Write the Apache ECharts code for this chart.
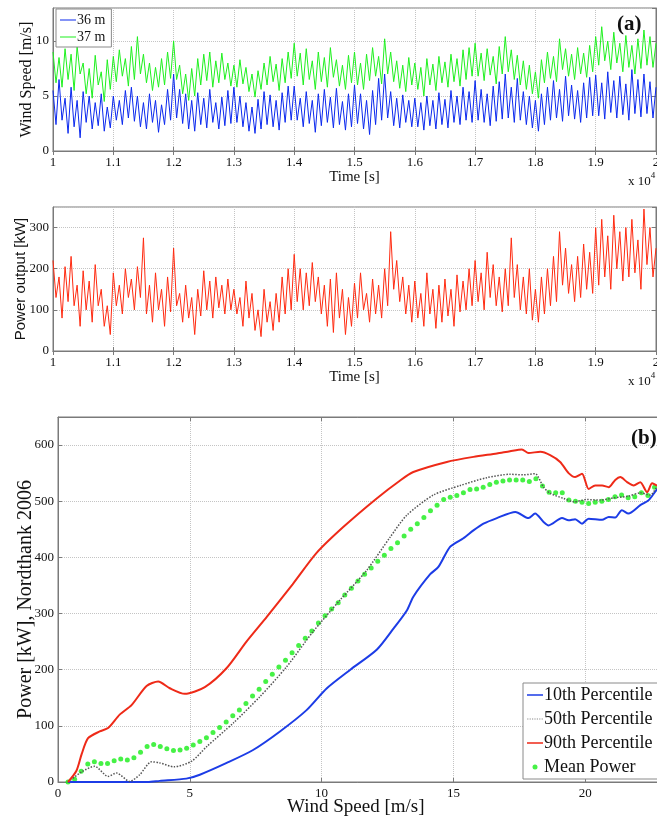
<!DOCTYPE html>
<html>
<head>
    <meta charset="utf-8">
    <script src="https://cdn.jsdelivr.net/npm/echarts@6/dist/echarts.min.js"></script>
    <title></title>
    <style>
        body { margin: 0; background: #fff; }
        #main { width: 657px; height: 823px; }
    </style>
</head>
<body>
<div id="main"></div>
<script>
    // time axis in units of 1e4 s, one sample every 0.005
    var timeStart = 1;
    var timeStep = 0.005;

    // wind speed at 36 m [m/s]
    var wind36 = [
        5.5,2.4,6.5,2.8,4.8,1.6,5.8,2.2,4.6,1.2,5.4,2.6,5.0,2.0,4.4,2.3,5.2,1.8,4.0,2.1,
        5.0,2.8,4.6,2.4,5.5,3.0,5.8,2.7,5.0,2.2,4.4,2.0,5.2,2.6,4.6,1.7,4.2,2.4,5.6,2.8,
        7.0,3.0,5.6,2.5,5.2,2.0,4.6,1.8,5.3,2.4,4.8,2.1,5.6,2.6,4.4,2.0,4.9,2.3,5.5,2.5,
        5.8,2.6,5.0,2.2,4.4,1.8,4.0,1.6,4.7,2.0,5.4,2.4,5.1,2.2,4.6,1.9,5.3,2.6,5.9,2.8,
        5.9,2.8,4.8,2.2,5.4,2.5,4.6,1.7,5.2,2.3,5.6,2.6,4.9,2.1,5.7,2.4,4.5,1.9,5.2,2.2,
        6.0,2.5,5.2,2.0,4.6,1.5,5.5,2.4,6.6,2.8,7.0,3.0,5.4,2.3,4.8,2.1,5.1,2.6,4.6,2.2,
        4.8,2.2,4.4,1.9,5.0,2.3,4.6,2.0,5.3,2.4,4.7,2.1,5.5,2.6,5.0,2.4,5.8,2.8,5.4,2.6,
        6.4,2.8,5.6,2.6,5.2,2.3,5.9,2.7,6.3,2.9,7.0,3.0,5.8,2.6,6.6,2.8,5.4,2.4,5.0,2.1,
        4.6,1.8,5.2,2.4,5.8,2.8,6.4,3.0,5.6,2.7,6.8,3.2,6.0,2.9,5.5,2.6,6.2,3.0,6.7,3.2,
        6.9,3.2,6.2,2.9,7.2,3.5,6.4,3.0,6.8,3.3,6.1,2.8,7.4,3.4,6.5,3.1,7.0,3.4,6.3,3.0,
        5.8
    ];
    // wind speed at 37 m [m/s]
    var wind37 = [
        9.0,6.2,8.5,5.8,9.3,6.5,8.8,5.5,9.5,7.0,8.0,5.2,7.5,4.8,8.7,6.0,7.2,4.5,8.3,5.6,
        8.6,6.3,9.2,6.8,8.4,5.9,9.5,6.5,10.4,7.0,8.8,6.2,8.0,5.5,7.6,5.8,8.4,6.0,9.0,6.6,
        10.0,6.5,7.8,5.2,7.0,4.6,7.5,5.0,8.4,6.0,8.8,6.4,9.0,5.8,8.2,6.2,8.9,6.5,8.0,5.9,
        7.8,5.8,8.3,6.1,7.6,5.4,7.0,4.9,7.3,5.6,8.0,6.0,8.6,6.3,7.9,5.5,8.4,6.2,9.0,6.6,
        9.8,6.8,8.9,6.0,9.3,6.5,8.2,5.6,9.0,6.3,8.5,5.8,9.4,6.7,8.3,5.9,7.8,5.6,8.7,6.2,
        9.0,6.0,8.0,5.6,8.8,6.4,9.4,6.8,8.6,6.1,10.2,7.0,9.0,6.3,8.2,5.7,7.8,5.4,8.5,6.0,
        8.0,5.6,7.6,5.0,8.4,6.0,7.9,5.5,8.6,6.2,8.1,5.8,8.8,6.3,8.4,5.9,9.2,6.5,9.4,6.8,
        9.8,6.8,8.9,6.4,9.3,6.9,8.6,6.1,9.5,7.0,10.4,7.2,9.2,6.5,8.7,6.0,8.2,5.6,7.8,5.2,
        7.2,4.8,8.3,6.2,9.0,6.6,8.6,6.3,10.2,7.4,9.3,6.8,8.8,6.5,9.4,7.0,8.9,6.7,9.6,7.2,
        10.4,7.8,11.3,8.2,10.0,7.4,10.8,8.0,9.8,7.2,10.5,7.6,9.6,7.0,10.2,7.5,11.0,7.8,10.4,7.6,
        9.8
    ];
    // power output [kW]
    var powerOut = [
        220,130,180,80,205,120,230,110,160,60,195,100,170,70,210,110,150,60,110,40,
        190,110,160,90,200,130,175,100,205,130,275,90,160,70,190,100,150,60,180,95,
        250,110,140,70,160,80,130,40,150,85,195,100,170,80,180,105,160,90,175,100,
        150,90,130,60,170,80,140,50,100,35,150,70,120,50,140,70,180,90,200,100,
        235,120,200,100,190,110,215,120,180,90,160,60,175,45,190,80,150,40,130,60,
        165,80,190,100,140,70,175,90,160,80,200,110,290,150,220,120,180,90,160,70,
        170,80,140,60,190,90,150,55,160,70,175,85,150,60,185,95,170,100,200,110,
        220,120,190,100,240,130,210,110,180,95,200,110,275,130,210,100,180,90,200,75,
        150,70,180,90,200,110,230,120,290,160,250,140,210,120,230,130,260,150,240,140,
        300,160,320,180,280,150,330,200,290,170,300,180,320,190,270,150,345,210,300,180,
        250
    ];

    // power curve, [wind speed m/s, power kW]
    var p10 = [[0.38,0],[3.4,0],[3.86,2],[4.87,6],[5.38,13],[6.4,34],[7.4,57],[8.42,90],[9.43,128],
        [10.2,167],[11.09,200],[12.1,236],[12.74,274],[13.24,306],[13.48,330],[14.12,370],[14.43,383],
        [14.88,419],[15.38,434],[15.76,448],[16.14,460],[16.65,470],[17.35,481],[17.85,470],[18.1,478],
        [18.42,463],[18.61,457],[19.12,470],[19.37,466],[19.62,468],[19.88,460],[20.13,469],[20.64,467],
        [20.89,472],[21.14,471],[21.39,484],[21.64,478],[22.09,493],[22.41,502],[22.73,521],[23,528]];
    var p50 = [[0.38,0],[0.9,18],[1.39,28],[1.9,10],[2.22,16],[2.72,1],[3.1,13],[3.55,36],[3.86,34],
        [4.4,27],[5.07,37],[5.64,63],[6.65,105],[7.66,152],[8.67,205],[9.68,268],[10.7,324],[11.71,377],
        [12.6,436],[13.23,475],[14.24,511],[15.26,528],[16.27,542],[17.15,548],[17.66,547],[18.1,549],
        [18.42,525],[18.67,514],[19.18,505],[19.56,499],[20.07,503],[20.57,502],[21.08,506],[21.64,509],
        [22.09,515],[22.47,511],[22.73,525],[23,528]];
    var p90 = [[0.38,0],[0.7,20],[0.9,50],[1.14,78],[1.58,90],[1.9,96],[2.34,120],[2.79,137],[3.36,171],
        [3.8,179],[4.24,167],[4.81,157],[5.57,169],[6.4,203],[7.15,250],[7.92,294],[8.9,352],[9.81,408],
        [10.82,454],[12.09,505],[12.98,537],[13.48,552],[14.75,570],[15.76,579],[16.65,585],[17.15,589],
        [17.6,592],[17.85,586],[18.3,588],[18.67,582],[19.05,570],[19.37,550],[19.62,543],[19.88,549],
        [20.13,522],[20.38,528],[20.64,528],[20.89,525],[21.14,538],[21.33,543],[21.59,534],[21.84,528],
        [22.09,534],[22.35,516],[22.54,532],[22.73,528],[23,530]];
    var meanSpeed = [0.38,0.63,0.88,1.13,1.38,1.63,1.88,2.13,2.38,2.63,2.88,3.13,3.38,3.63,3.88,4.13,4.38,4.63,4.88,5.13,
        5.38,5.63,5.88,6.13,6.38,6.63,6.88,7.13,7.38,7.63,7.88,8.13,8.38,8.63,8.88,9.13,9.38,9.63,9.88,10.13,
        10.38,10.63,10.88,11.13,11.38,11.63,11.88,12.13,12.38,12.63,12.88,13.13,13.38,13.63,13.88,14.13,14.38,14.63,14.88,15.13,
        15.38,15.63,15.88,16.13,16.38,16.63,16.88,17.13,17.38,17.63,17.88,18.13,18.38,18.63,18.88,19.13,19.38,19.63,19.88,20.13,
        20.38,20.63,20.88,21.13,21.38,21.63,21.88,22.13,22.38,22.63,22.88];
    var meanPower = [0,5,19,32,36,33,33,38,41,39,43,53,63,67,63,59,56,57,60,66,
        72,79,88,97,107,118,128,140,153,165,179,192,205,217,230,243,256,269,283,296,
        308,319,333,345,358,370,381,393,404,416,426,438,450,460,471,483,493,503,507,510,
        515,521,522,525,530,534,536,538,538,538,535,540,527,516,515,515,502,500,498,496,
        498,500,503,508,511,506,508,515,510,525,528];

    var serif = 'Liberation Serif';
    var gridLine = { show: true, lineStyle: { color: '#c4c4c4', type: 'dotted', width: 1 } };
    var axisLine = { show: true, lineStyle: { color: '#7a7a7a', width: 1 } };
    var tick = { show: true, inside: true, length: 4, lineStyle: { color: '#7a7a7a' } };
    var tickLabel = { fontFamily: serif, fontSize: 13, color: '#111' };

    // legend icons: tiny corner specks keep the box 5 px tall so the line sits in the middle
    var lineIcon = 'path://M0,0h0.01v0.01h-0.01z M0,1.7h16v1.6h-16z M0,4.99h0.01v0.01h-0.01z';
    var dotIcon = 'path://M0,0h0.01v0.01h-0.01z M0,1.9h1.2v1.2h-1.2z M2.4,1.9h1.2v1.2h-1.2z M4.8,1.9h1.2v1.2h-1.2z ' +
        'M7.2,1.9h1.2v1.2h-1.2z M9.6,1.9h1.2v1.2h-1.2z M12,1.9h1.2v1.2h-1.2z M14.4,1.9h1.2v1.2h-1.2z M0,4.99h0.01v0.01h-0.01z';
    var thinIcon = 'path://M0,0h0.01v0.01h-0.01z M0,2h16v1h-16z M0,4.99h0.01v0.01h-0.01z';

    function timeSeries(values) {
        return values.map(function (v, i) {
            return [timeStart + i * timeStep, v];
        });
    }

    function timeAxis(gridIndex, pos, showLabel) {
        return {
            type: 'value', gridIndex: gridIndex, position: pos,
            min: 1, max: 2, interval: 0.1,
            axisLine: axisLine, axisTick: tick, splitLine: pos === 'bottom' ? gridLine : { show: false },
            axisLabel: showLabel ? Object.assign({ margin: 5 }, tickLabel) : { show: false },
            name: showLabel ? 'Time [s]' : '', nameLocation: 'middle', nameGap: 17,
            nameTextStyle: { fontFamily: serif, fontSize: 15, color: '#111' }
        };
    }

    var chart = echarts.init(document.getElementById('main'));
    chart.setOption({
        animation: false,
        grid: [
            { left: 53, top: 8, right: 1, height: 143, show: true, borderColor: '#7a7a7a', borderWidth: 1,
              outerBoundsMode: 'none', containLabel: false },
            { left: 53, top: 207, right: 1, height: 144, show: true, borderColor: '#7a7a7a', borderWidth: 1,
              outerBoundsMode: 'none', containLabel: false },
            { left: 58, top: 417, right: -60, height: 365, show: true, borderColor: '#7a7a7a', borderWidth: 1,
              outerBoundsMode: 'none', containLabel: false }
        ],
        xAxis: [
            timeAxis(0, 'bottom', true),
            timeAxis(1, 'bottom', true),
            {
                type: 'value', gridIndex: 2, min: 0, max: 25, interval: 5,
                axisLine: axisLine, axisTick: tick, splitLine: gridLine,
                axisLabel: Object.assign({ margin: 5 }, tickLabel)
            },
            timeAxis(0, 'top', false),
            timeAxis(1, 'top', false),
            {
                type: 'value', gridIndex: 2, position: 'top', min: 0, max: 25, interval: 5,
                axisLine: axisLine, axisTick: tick, splitLine: { show: false }, axisLabel: { show: false }
            }
        ],
        yAxis: [
            {
                type: 'value', gridIndex: 0, min: 0, max: 13, interval: 5,
                axisLine: axisLine, axisTick: tick, splitLine: gridLine,
                axisLabel: Object.assign({ margin: 4, showMaxLabel: false }, tickLabel),
                name: 'Wind Speed [m/s]', nameLocation: 'middle', nameGap: 18, nameMoveOverlap: false,
                nameTextStyle: { fontFamily: serif, fontSize: 16, color: '#111' }
            },
            {
                type: 'value', gridIndex: 1, min: 0, max: 350, interval: 100,
                axisLine: axisLine, axisTick: tick, splitLine: gridLine,
                axisLabel: Object.assign({ margin: 4, showMaxLabel: false }, tickLabel),
                name: 'Power output [kW]', nameLocation: 'middle', nameGap: 25, nameMoveOverlap: false,
                nameTextStyle: { fontFamily: 'Liberation Sans', fontSize: 15, color: '#111' }
            },
            {
                type: 'value', gridIndex: 2, min: 0, max: 650, interval: 100,
                axisLine: axisLine, axisTick: tick, splitLine: gridLine,
                axisLabel: Object.assign({ margin: 4, showMaxLabel: false }, tickLabel),
                name: 'Power [kW], Nordthank 2006', nameLocation: 'middle', nameGap: 22, nameMoveOverlap: false,
                nameTextStyle: { fontFamily: serif, fontSize: 20, color: '#111' }
            },
            {
                type: 'value', gridIndex: 0, position: 'right', min: 0, max: 13, interval: 5,
                axisLine: axisLine, axisTick: tick, splitLine: { show: false }, axisLabel: { show: false }
            },
            {
                type: 'value', gridIndex: 1, position: 'right', min: 0, max: 350, interval: 100,
                axisLine: axisLine, axisTick: tick, splitLine: { show: false }, axisLabel: { show: false }
            }
        ],
        legend: [
            {
                left: 56, top: 9, orient: 'vertical',
                data: [{ name: '36 m', icon: thinIcon }, { name: '37 m', icon: thinIcon }],
                itemWidth: 16, itemHeight: 5, itemGap: 3,
                padding: [4, 6, 3, 4],
                borderColor: '#8a8a8a', borderWidth: 1, backgroundColor: '#fff',
                textStyle: { fontFamily: serif, fontSize: 14, color: '#111', padding: [0, 0, 0, -4] }
            },
            {
                left: 523, top: 683, orient: 'vertical',
                data: [{ name: '10th Percentile', icon: lineIcon }, { name: '50th Percentile', icon: dotIcon },
                    { name: '90th Percentile', icon: lineIcon }, { name: 'Mean Power', icon: 'circle' }],
                itemWidth: 16, itemHeight: 5, itemGap: 6,
                padding: [3, 60, 3, 4],
                borderColor: '#8a8a8a', borderWidth: 1, backgroundColor: '#fff',
                textStyle: { fontFamily: serif, fontSize: 18, color: '#111', padding: [0, 0, 0, -4] }
            }
        ],
        graphic: [
            { type: 'text', left: 617, top: 14, z: 100,
              style: { text: '(a)', fontFamily: serif, fontSize: 21, fontWeight: 'bold', fill: '#111' } },
            { type: 'text', left: 631, top: 428, z: 100,
              style: { text: '(b)', fontFamily: serif, fontSize: 21, fontWeight: 'bold', fill: '#111' } },
            { type: 'text', left: 628, top: 171, z: 100,
              style: { text: '{a|x 10}{b|4}', rich: {
                  a: { fontFamily: serif, fontSize: 13, fill: '#111', padding: [6, 0, 0, 0] },
                  b: { fontFamily: serif, fontSize: 9, fill: '#111', padding: [0, 0, 6, 0] } } } },
            { type: 'text', left: 628, top: 371, z: 100,
              style: { text: '{a|x 10}{b|4}', rich: {
                  a: { fontFamily: serif, fontSize: 13, fill: '#111', padding: [6, 0, 0, 0] },
                  b: { fontFamily: serif, fontSize: 9, fill: '#111', padding: [0, 0, 6, 0] } } } },
            { type: 'text', left: 287, top: 798, z: 100,
              style: { text: 'Wind Speed [m/s]', fontFamily: serif, fontSize: 19, fill: '#111' } }
        ],
        series: [
            {
                name: '36 m', type: 'line', xAxisIndex: 0, yAxisIndex: 0,
                data: timeSeries(wind36), showSymbol: false, symbol: 'none',
                lineStyle: { color: '#0a28ee', width: 1 }, itemStyle: { color: '#0a28ee' }
            },
            {
                name: '37 m', type: 'line', xAxisIndex: 0, yAxisIndex: 0,
                data: timeSeries(wind37), showSymbol: false, symbol: 'none',
                lineStyle: { color: '#1ff01f', width: 1 }, itemStyle: { color: '#1ff01f' }
            },
            {
                name: 'Power', type: 'line', xAxisIndex: 1, yAxisIndex: 1,
                data: timeSeries(powerOut), showSymbol: false, symbol: 'none',
                lineStyle: { color: '#ff2a10', width: 1 }, itemStyle: { color: '#ff2a10' }
            },
            {
                name: '10th Percentile', type: 'line', xAxisIndex: 2, yAxisIndex: 2,
                data: p10, smooth: 0.25, showSymbol: false, symbol: 'none',
                lineStyle: { color: '#1c3ce6', width: 2 }, itemStyle: { color: '#1c3ce6' }
            },
            {
                name: '50th Percentile', type: 'line', xAxisIndex: 2, yAxisIndex: 2,
                data: p50, smooth: 0.25, showSymbol: false, symbol: 'none',
                lineStyle: { color: '#555', width: 1.5, type: 'dotted' }, itemStyle: { color: '#8a8a8a' }
            },
            {
                name: '90th Percentile', type: 'line', xAxisIndex: 2, yAxisIndex: 2,
                data: p90, smooth: 0.25, showSymbol: false, symbol: 'none',
                lineStyle: { color: '#ee2a18', width: 2 }, itemStyle: { color: '#ee2a18' }
            },
            {
                name: 'Mean Power', type: 'scatter', xAxisIndex: 2, yAxisIndex: 2,
                data: meanSpeed.map(function (v, i) { return [v, meanPower[i]]; }),
                symbolSize: 5, itemStyle: { color: '#18ee18' }
            }
        ]
    });
</script>
</body>
</html>
